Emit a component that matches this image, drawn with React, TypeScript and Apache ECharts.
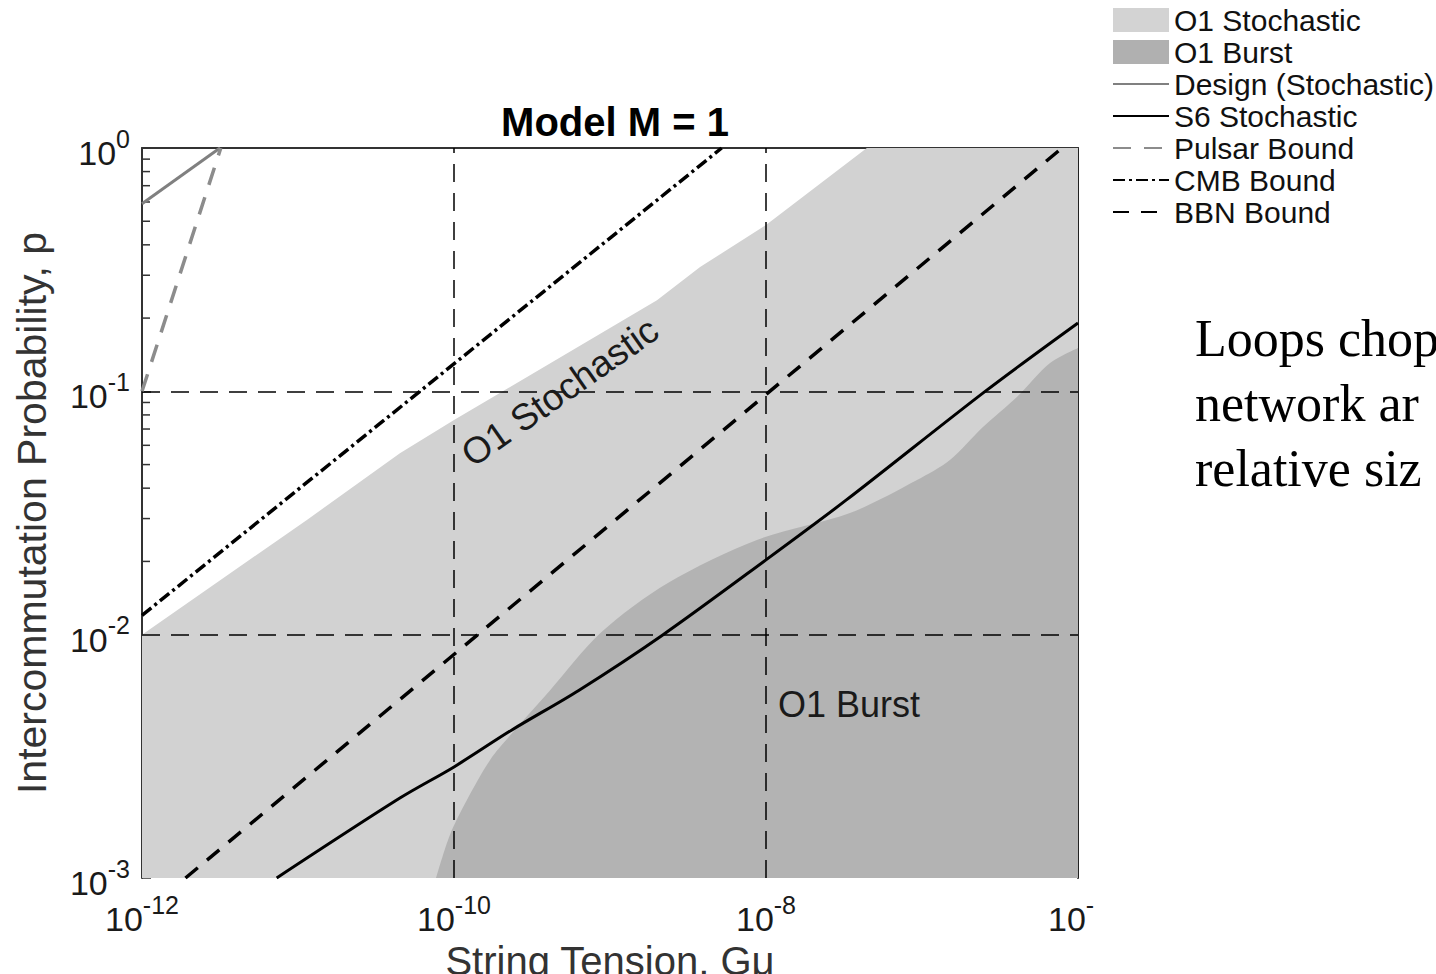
import React, { useEffect, useRef } from "react";
import * as echarts from "echarts";

// ---- data (actual values; plotted on log10 scales) ----
const gridGmu = [1e-10, 1e-8];
const gridP = [0.1, 0.01];

const stochGmu = [1e-12, 1.14e-11, 4.5e-11, 1e-10, 2.0e-9, 3.78e-9, 1e-8, 4.43e-8, 1e-6];
const stochP = [0.01, 0.0296, 0.0557, 0.0762, 0.237, 0.324, 0.483, 1, 1];

const burstGmu = [7.67e-11, 9.4e-11, 1.21e-10, 1.7e-10, 2.36e-10, 4.12e-10, 8.75e-10, 2.35e-9, 8.75e-9, 3.45e-8, 9.29e-8, 1.51e-7, 2.46e-7, 4.06e-7, 6.62e-7, 1e-6];
const burstP = [1e-3, 1.5e-3, 2.09e-3, 3.05e-3, 3.94e-3, 5.9e-3, 1.02e-2, 1.63e-2, 2.45e-2, 3.16e-2, 4.32e-2, 5.22e-2, 7.13e-2, 9.48e-2, 0.1306, 0.1507];

const designGmu = [1e-12, 3.16e-12];
const designP = [0.59, 1];

const s6Gmu = [7.3e-12, 4.5e-11, 1e-10, 2.35e-10, 6.3e-10, 2.19e-9, 1e-8, 3.26e-8, 2.54e-7, 1e-6];
const s6P = [1e-3, 2.13e-3, 2.86e-3, 4.06e-3, 5.9e-3, 1e-2, 2.03e-2, 3.57e-2, 0.1, 0.191];

const pulsarGmu = [1e-12, 3.2e-12];
const pulsarP = [0.1, 1];

const cmbGmu = [1e-12, 5.2e-9];
const cmbP = [0.012, 1];

const bbnGmu = [1.9e-12, 7.9e-7];
const bbnP = [1e-3, 1];

const minorTickP = [
  0.002, 0.003, 0.004, 0.005, 0.006, 0.007, 0.008, 0.009,
  0.02, 0.03, 0.04, 0.05, 0.06, 0.07, 0.08, 0.09,
  0.2, 0.3, 0.4, 0.5, 0.6, 0.7, 0.8, 0.9,
];

const FONT = '"Liberation Sans", Arial, Helvetica, sans-serif';
const SERIF = '"Liberation Serif", "DejaVu Serif", serif';
const lg = Math.log10;
const pts = (xs: number[], ys: number[]) => xs.map((x, i) => [lg(x), lg(ys[i])]);

const powRich = {
  b: { fontSize: 34, lineHeight: 44, verticalAlign: "bottom", fontFamily: FONT, color: "#1a1a1a" },
  s: { fontSize: 25, lineHeight: 16, verticalAlign: "top", fontFamily: FONT, color: "#1a1a1a" },
};
const powFmt = (v: number) => `{b|10}{s|${Math.round(v)}}`;

const hideSym = { color: "rgba(0,0,0,0)", borderWidth: 0 };

export default function App() {
  const ref = useRef<HTMLDivElement>(null);
  useEffect(() => {
    if (!ref.current) return;
    const chart = echarts.init(ref.current, undefined, { renderer: "svg" });
    const lineBase = (name: string, xs: number[], ys: number[], color: string, width: number, type: any, z: number, smooth: any = false) => ({
      name,
      type: "line",
      data: pts(xs, ys),
      symbol: "none",
      showSymbol: false,
      smooth,
      z,
      itemStyle: { color },
      lineStyle: { color, width, type },
    });
    chart.setOption({
      animation: false,
      title: {
        text: "Model M = 1",
        left: 610,
        top: 97,
        textAlign: "center",
        textStyle: { fontSize: 40, fontWeight: "bold", color: "#000", fontFamily: FONT },
      },
      legend: {
        orient: "vertical",
        left: 1112,
        top: 5,
        itemWidth: 56,
        itemHeight: 24,
        itemGap: 2,
        itemTextGap: 6,
        padding: 0,
        selectedMode: false,
        textStyle: { fontSize: 30, color: "#111", fontFamily: FONT },
        data: [
          { name: "O1 Stochastic", icon: "rect", itemStyle: { color: "#d3d3d3" } },
          { name: "O1 Burst", icon: "rect", itemStyle: { color: "#b0b0b0" } },
          { name: "Design (Stochastic)", itemStyle: hideSym },
          { name: "S6 Stochastic", itemStyle: hideSym },
          { name: "Pulsar Bound", itemStyle: hideSym },
          { name: "CMB Bound", itemStyle: hideSym },
          { name: "BBN Bound", itemStyle: hideSym },
        ],
      },
      grid: { left: 142, top: 148, width: 936, height: 730, outerBoundsMode: "none", containLabel: false },
      xAxis: [
        {
          type: "value",
          min: -12,
          max: -6,
          interval: 2,
          position: "bottom",
          axisLine: { show: false },
          axisTick: { show: false },
          splitLine: { show: false },
          axisLabel: { margin: 14, formatter: powFmt, rich: powRich },
          name: "String Tension, Gμ",
          nameLocation: "middle",
          nameGap: 63,
          nameTextStyle: { fontSize: 40, color: "#333", fontFamily: FONT },
        },
        {
          type: "value",
          min: -12,
          max: -6,
          position: "top",
          axisLine: { show: true, lineStyle: { color: "#333", width: 2 } },
          axisTick: { show: false },
          axisLabel: { show: false },
          splitLine: { show: false },
        },
      ],
      yAxis: [
        {
          type: "value",
          min: -3,
          max: 0,
          interval: 1,
          position: "left",
          axisLine: { show: true, lineStyle: { color: "#333", width: 2 } },
          axisTick: { show: true, inside: true, length: 9, lineStyle: { color: "#333", width: 1.5 } },
          splitLine: { show: false },
          axisLabel: { margin: 12, formatter: powFmt, rich: powRich },
          name: "Intercommutation Probability, p",
          nameLocation: "middle",
          nameGap: 90,
          nameTextStyle: { fontSize: 41, color: "#333", fontFamily: FONT },
        },
        {
          type: "value",
          min: -3,
          max: 0,
          position: "right",
          axisLine: { show: true, lineStyle: { color: "#222", width: 2 } },
          axisTick: { show: false },
          axisLabel: { show: false },
          splitLine: { show: false },
        },
      ],
      series: [
        {
          type: "custom",
          silent: true,
          z: 1,
          data: minorTickP.map((p) => [-12, lg(p)]),
          encode: { x: 0, y: 1 },
          renderItem: (params: any, api: any) => {
            const c = api.coord([api.value(0), api.value(1)]);
            return {
              type: "line",
              shape: { x1: c[0], y1: c[1], x2: c[0] + 8, y2: c[1] },
              style: { stroke: "#333", lineWidth: 1.5 },
            };
          },
        },
        {
          name: "O1 Stochastic",
          type: "line",
          data: pts(stochGmu, stochP),
          symbol: "none",
          showSymbol: false,
          z: 2,
          itemStyle: { color: "#d2d2d2" },
          lineStyle: { width: 0, color: "#d2d2d2" },
          areaStyle: { color: "#d2d2d2", opacity: 1, origin: "start" },
        },
        {
          name: "O1 Burst",
          type: "line",
          data: pts(burstGmu, burstP),
          symbol: "none",
          showSymbol: false,
          smooth: 0.3,
          z: 3,
          itemStyle: { color: "#b3b3b3" },
          lineStyle: { width: 0, color: "#b3b3b3" },
          areaStyle: { color: "#b3b3b3", opacity: 1, origin: "start" },
          markLine: {
            silent: true,
            symbol: ["none", "none"],
            label: { show: false },
            lineStyle: { color: "#000", width: 1.5, type: [18, 11] },
            data: [
              ...gridGmu.map((g) => ({ xAxis: lg(g) })),
              ...gridP.map((p) => ({ yAxis: lg(p) })),
            ],
          },
        },
        lineBase("Design (Stochastic)", designGmu, designP, "#808080", 3, "solid", 6),
        lineBase("S6 Stochastic", s6Gmu, s6P, "#000", 3, "solid", 6, 0.3),
        lineBase("Pulsar Bound", pulsarGmu, pulsarP, "#8c8c8c", 3.5, [18, 13], 6),
        lineBase("CMB Bound", cmbGmu, cmbP, "#000", 3.5, [12, 4, 3, 4], 6),
        lineBase("BBN Bound", bbnGmu, bbnP, "#000", 3.5, [16, 12], 6),
      ],
      graphic: [
        {
          type: "text",
          x: 560,
          y: 392,
          rotation: (35 * Math.PI) / 180,
          z: 50,
          style: { text: "O1 Stochastic", fontSize: 37, fontFamily: FONT, fill: "#1a1a1a", align: "center", verticalAlign: "middle" },
        },
        {
          type: "text",
          x: 778,
          y: 704,
          z: 50,
          style: { text: "O1 Burst", fontSize: 36, fontFamily: FONT, fill: "#1a1a1a", align: "left", verticalAlign: "middle" },
        },
        {
          type: "rect",
          x: 1094,
          y: 882,
          z: 100,
          shape: { width: 342, height: 60 },
          style: { fill: "#fff" },
        },
        {
          type: "text",
          x: 1195,
          y: 338,
          z: 50,
          style: { text: "Loops chop", fontSize: 52, fontFamily: SERIF, fill: "#000", align: "left", verticalAlign: "middle" },
        },
        {
          type: "text",
          x: 1195,
          y: 403,
          z: 50,
          style: { text: "network ar", fontSize: 52, fontFamily: SERIF, fill: "#000", align: "left", verticalAlign: "middle" },
        },
        {
          type: "text",
          x: 1195,
          y: 468,
          z: 50,
          style: { text: "relative siz", fontSize: 52, fontFamily: SERIF, fill: "#000", align: "left", verticalAlign: "middle" },
        },
      ],
    });
    return () => chart.dispose();
  }, []);
  return <div ref={ref} style={{ position: "fixed", left: 0, top: 0, width: 1436, height: 974, background: "#fff" }} />;
}
